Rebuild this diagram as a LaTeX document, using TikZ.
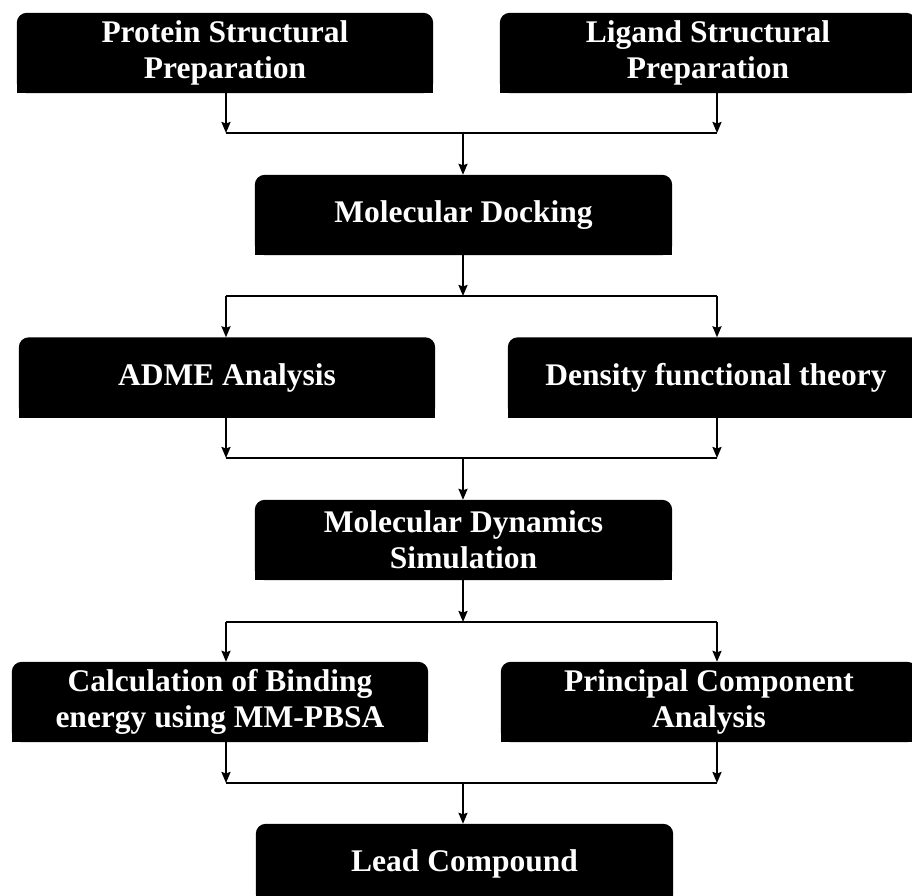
\documentclass[tikz,border=0pt]{standalone}
\usepackage{fontspec}
\setmainfont{Liberation Serif}
\usetikzlibrary{arrows.meta,backgrounds}
\begin{document}
\begin{tikzpicture}[x=1pt,y=-1pt,
  box/.style={minimum width=416pt,minimum height=80pt,inner sep=0pt,text=white,align=center,
    font=\fontsize{31.5}{36}\selectfont\bfseries},
  conn/.style={line width=2pt},
  arr/.style={conn,-{Stealth[length=11pt,width=9pt,inset=1.5pt]}}]
\useasboundingbox (0,0) rectangle (912,895);
% boxes
\node[box] (prot) at (225,53) {Protein Structural\\Preparation};
\node[box] (lig) at (708,53) {Ligand Structural\\Preparation};
\node[box,minimum width=417pt] (dock) at (463.5,215) {Molecular Docking};
\node[box] (adme) at (227,377.5) {ADME Analysis};
\node[box] (dft) at (716,377.5) {Density functional theory};
\node[box,minimum width=417pt] (md) at (463.5,540) {Molecular Dynamics\\Simulation};
\node[box] (calc) at (220,702) {Calculation of Binding\\energy using MM-PBSA};
\node[box] (pca) at (709,702) {Principal Component\\Analysis};
\node[box,minimum width=417pt] (lead) at (464.5,864) {Lead Compound};
\begin{scope}[on background layer]
  \clip (0,0) rectangle (912,895);
  \foreach \n in {prot,lig,dock,adme,dft,md,calc,pca,lead}{
    \fill[black,rounded corners=10pt] (\n.south west) rectangle (\n.north east);
    \fill[black] (\n.south west) rectangle (\n.east);
  }
\end{scope}
% junction coordinates
\coordinate (j1l) at (226,133); \coordinate (j1r) at (717,133); \coordinate (j1c) at (463,133);
\coordinate (s1l) at (226,296); \coordinate (s1r) at (717,296); \coordinate (s1c) at (463,296);
\coordinate (j2l) at (226,458); \coordinate (j2r) at (717,458); \coordinate (j2c) at (463,458);
\coordinate (s2l) at (226,622); \coordinate (s2r) at (717,622); \coordinate (s2c) at (463,622);
\coordinate (j3l) at (226,783); \coordinate (j3r) at (717,783); \coordinate (j3c) at (463,783);
% level 1 merge
\draw[arr] (j1l |- prot.south) -- (j1l);
\draw[arr] (j1r |- lig.south) -- (j1r);
\draw[conn] (j1l) -- (j1r);
\draw[arr] (j1c) -- (j1c |- dock.north);
% split 1
\draw[arr] (s1c |- dock.south) -- (s1c);
\draw[conn] (s1l) -- (s1r);
\draw[arr] (s1l) -- (s1l |- adme.north);
\draw[arr] (s1r) -- (s1r |- dft.north);
% merge 2
\draw[arr] (j2l |- adme.south) -- (j2l);
\draw[arr] (j2r |- dft.south) -- (j2r);
\draw[conn] (j2l) -- (j2r);
\draw[arr] (j2c) -- (j2c |- md.north);
% split 2
\draw[arr] (s2c |- md.south) -- (s2c);
\draw[conn] (s2l) -- (s2r);
\draw[arr] (s2l) -- (s2l |- calc.north);
\draw[arr] (s2r) -- (s2r |- pca.north);
% merge 3
\draw[arr] (j3l |- calc.south) -- (j3l);
\draw[arr] (j3r |- pca.south) -- (j3r);
\draw[conn] (j3l) -- (j3r);
\draw[arr] (j3c) -- (j3c |- lead.north);
\end{tikzpicture}
\end{document}
